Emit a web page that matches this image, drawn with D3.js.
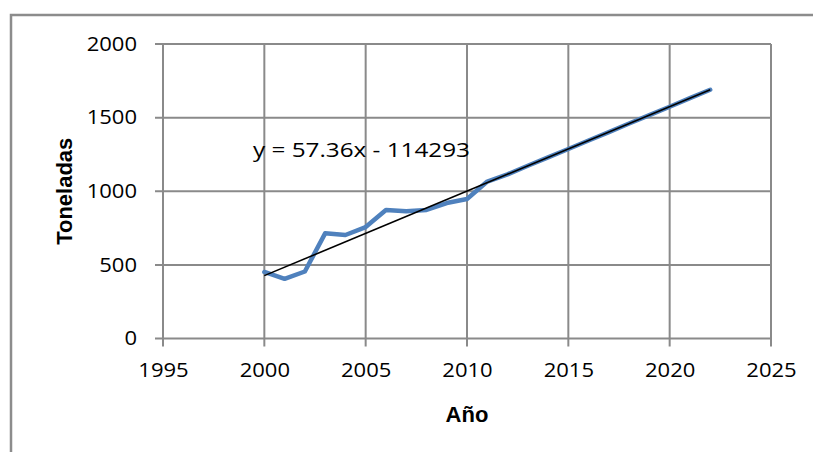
<!DOCTYPE html>
<html>
<head>
<meta charset="utf-8">
<script src="https://cdn.jsdelivr.net/npm/d3@7"></script>
<style>
  body { margin: 0; background: #fff; }
  svg { display: block; }
  .tick-label { font-family: 'Open Sans', sans-serif; font-size: 19.5px; fill: #000; }
  .axis-title { font-family: 'Liberation Sans', Arial, sans-serif; font-weight: bold; font-size: 22px; fill: #000; }
</style>
</head>
<body>
<div id="chart"></div>
<script>
// Año / Toneladas
const years = [2000, 2001, 2002, 2003, 2004, 2005, 2006, 2007, 2008, 2009, 2010, 2011,
  2012, 2013, 2014, 2015, 2016, 2017, 2018, 2019, 2020, 2021, 2022];
const tons = [452, 405, 455, 714, 703, 757, 872, 864, 873, 920, 947, 1066,
  1115, 1173, 1230, 1287, 1345, 1402, 1460, 1517, 1574, 1632, 1689];

const xTicks = [1995, 2000, 2005, 2010, 2015, 2020, 2025];
const yTicks = [0, 500, 1000, 1500, 2000];

// trend line shown in the chart: y = 57.36x - 114293
const trendSlope = 57.36;
const trendIntercept = -114293;
const trendYears = [2000, 2022];
const trendLabel = 'y = 57.36x - 114293';

const width = 813, height = 452;
const plot = { left: 163, right: 771, top: 44, bottom: 338.5 };
const gridColor = '#8a8a8a';

const svg = d3.select('#chart').append('svg')
  .attr('width', width)
  .attr('height', height);

svg.append('rect').attr('width', width).attr('height', height).attr('fill', '#fff');

// outer chart border (only left and top visible)
svg.append('path')
  .attr('d', `M11,${height} V15 H${width}`)
  .attr('fill', 'none')
  .attr('stroke', '#8c8c8c')
  .attr('stroke-width', 2.5);

const x = d3.scaleLinear().domain([1995, 2025]).range([plot.left, plot.right]);
const y = d3.scaleLinear().domain([0, 2000]).range([plot.bottom, plot.top]);

// gridlines
const grid = svg.append('g');
grid.selectAll('.vgrid').data(xTicks).join('line')
  .attr('x1', d => x(d)).attr('x2', d => x(d))
  .attr('y1', plot.top).attr('y2', plot.bottom + 8)
  .attr('stroke', gridColor).attr('stroke-width', 2);
grid.selectAll('.hgrid').data(yTicks).join('line')
  .attr('x1', plot.left - 8).attr('x2', plot.right)
  .attr('y1', d => y(d)).attr('y2', d => y(d))
  .attr('stroke', gridColor).attr('stroke-width', 2);

// axes (labels only, ticks drawn with the grid)
const xAxis = svg.append('g')
  .attr('transform', `translate(0,${plot.bottom})`)
  .call(d3.axisBottom(x).tickValues(xTicks).tickFormat(d3.format('d')).tickSize(0));
xAxis.select('.domain').remove();
xAxis.selectAll('text')
  .attr('class', 'tick-label')
  .attr('y', 24.5)
  .attr('transform', 'scale(1.13,1)');

const yAxis = svg.append('g')
  .attr('transform', `translate(${plot.left},0)`)
  .call(d3.axisLeft(y).tickValues(yTicks).tickFormat(d3.format('d')).tickSize(0));
yAxis.select('.domain').remove();
yAxis.selectAll('text')
  .attr('class', 'tick-label')
  .attr('x', -23)
  .attr('transform', 'scale(1.13,1)');

// data line
const data = years.map((yr, i) => ({ year: yr, value: tons[i] }));
const line = d3.line().x(d => x(d.year)).y(d => y(d.value));

svg.append('path')
  .datum(data)
  .attr('d', line)
  .attr('fill', 'none')
  .attr('stroke', '#4F81BD')
  .attr('stroke-width', 4.5)
  .attr('stroke-linejoin', 'round')
  .attr('stroke-linecap', 'round');

// trend line
const trend = trendYears.map(yr => ({ year: yr, value: trendSlope * yr + trendIntercept }));
svg.append('path')
  .datum(trend)
  .attr('d', line)
  .attr('fill', 'none')
  .attr('stroke', '#000')
  .attr('stroke-width', 1.6);

svg.append('text')
  .attr('class', 'tick-label')
  .attr('x', 253)
  .attr('y', 157)
  .attr('textLength', 217)
  .attr('lengthAdjust', 'spacingAndGlyphs')
  .text(trendLabel);

// axis titles
svg.append('text')
  .attr('class', 'axis-title')
  .attr('x', (plot.left + plot.right) / 2)
  .attr('y', 422)
  .attr('text-anchor', 'middle')
  .text('Año');

svg.append('text')
  .attr('class', 'axis-title')
  .attr('transform', `translate(72,${(plot.top + plot.bottom) / 2}) rotate(-90)`)
  .attr('text-anchor', 'middle')
  .text('Toneladas');
</script>
</body>
</html>
